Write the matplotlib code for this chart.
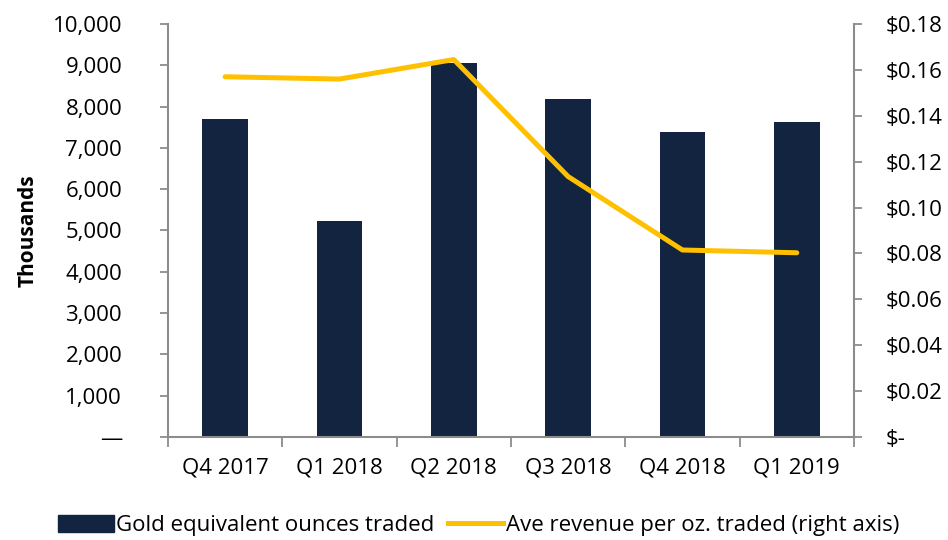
import matplotlib.pyplot as plt
from matplotlib.ticker import FixedLocator, FuncFormatter
from matplotlib.patches import Patch
from matplotlib.lines import Line2D

quarters = ["Q4 2017", "Q1 2018", "Q2 2018", "Q3 2018", "Q4 2018", "Q1 2019"]
ounces_traded = [7700, 5230, 9050, 8190, 7380, 7630]  # thousands
avg_revenue = [0.157, 0.156, 0.1645, 0.1135, 0.0815, 0.0803]  # $ per oz

navy = "#12243f"
gold = "#ffc000"
grey = "#8c8c8c"

plt.rcParams["font.family"] = ["Open Sans", "DejaVu Sans"]
fs = 16

fig = plt.figure(figsize=(9.48, 5.4), dpi=100)
ax = fig.add_axes([0.1772, 0.1907, 0.7236, 0.7649])
ax2 = ax.twinx()

x = list(range(len(quarters)))
ax.bar(x, ounces_traded, width=0.4, color=navy, zorder=2)
ax2.plot(x, avg_revenue, color=gold, lw=3.6, solid_capstyle="round", zorder=3)

ax.set_xlim(-0.5, len(quarters) - 0.5)
ax.set_ylim(0, 10000)
ax2.set_ylim(0, 0.18)

ax.set_yticks(range(0, 10001, 1000))
ax.yaxis.set_major_formatter(FuncFormatter(lambda v, p: "\u2014" if v == 0 else f"{int(v):,}"))
ax2.set_yticks([i * 0.02 for i in range(10)])
ax2.yaxis.set_major_formatter(FuncFormatter(lambda v, p: "$-" if abs(v) < 1e-9 else f"${v:.2f}"))

ax.set_xticks(x)
ax.set_xticklabels(quarters)
ax.xaxis.set_minor_locator(FixedLocator([i - 0.5 for i in range(len(quarters) + 1)]))
ax.tick_params(axis="x", which="major", length=0, pad=15, labelsize=fs)
ax.tick_params(axis="x", which="minor", length=7, width=1.3, color=grey)
ax.tick_params(axis="y", length=6, width=1.3, color=grey, labelsize=fs, pad=27)
ax2.tick_params(axis="y", length=6, width=1.3, color=grey, labelsize=fs, pad=17)

for a in (ax, ax2):
    for s in a.spines.values():
        s.set_visible(False)
ax.spines["left"].set_visible(True)
ax.spines["bottom"].set_visible(True)
ax2.spines["right"].set_visible(True)
for s in (ax.spines["left"], ax.spines["bottom"], ax2.spines["right"]):
    s.set_color(grey)
    s.set_linewidth(1.5)

ax.set_ylabel("Thousands", fontsize=15, fontweight="bold", labelpad=10)

handles = [
    Patch(facecolor=navy, edgecolor=navy),
    Line2D([0], [0], color=gold, lw=3.6),
]
fig.legend(handles, ["Gold equivalent ounces traded", "Ave revenue per oz. traded (right axis)"],
           loc="lower center", bbox_to_anchor=(0.505, -0.03), ncol=2, frameon=False,
           fontsize=fs, handlelength=2.5, handleheight=0.75, handletextpad=0.1,
           columnspacing=0.6)

fig.savefig("out.png", dpi=100)
